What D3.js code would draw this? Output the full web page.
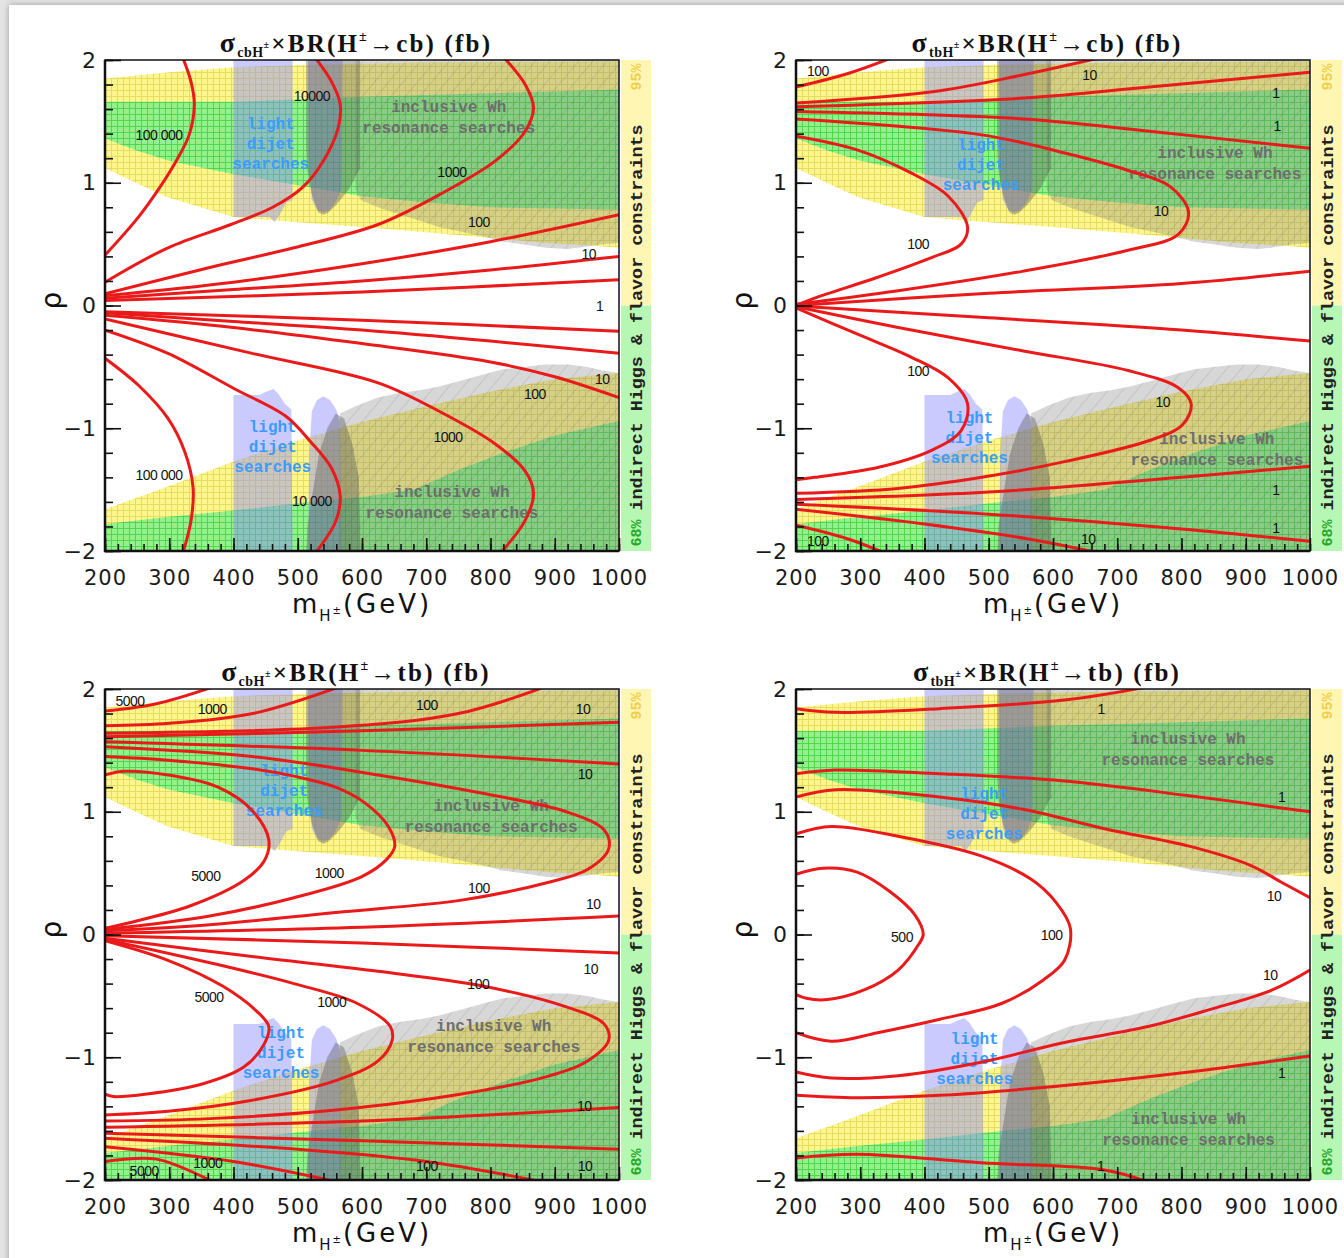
<!DOCTYPE html>
<html>
<head>
<meta charset="utf-8">
<script src="https://cdn.jsdelivr.net/npm/d3@7"></script>
<style>
  body { margin: 0; background: #e6e6e6; }
  svg { display: block; }
</style>
</head>
<body>
<svg id="fig" width="1344" height="1258"></svg>
<script>
// ---- axes
const massMajor = d3.range(200, 1001, 100);
const massMinor = d3.range(200, 1001, 20);
const rhoMajor = [-2, -1, 0, 1, 2];
const rhoMinor = d3.range(-2, 2.001, 0.2);

// ---- constraint regions, [m_H (GeV), rho]
const yellowUpper = [[200,1.85],[300,1.9],[400,1.94],[500,1.96],[700,1.98],[1000,1.99],
  [1000,0.47],[950,0.49],[886,0.51],[800,0.55],[690,0.6],[600,0.64],[494,0.68],[400,0.72],[298,0.88],[252,0.99],[200,1.12]];
const greenUpper = [[200,1.66],[400,1.66],[600,1.7],[800,1.73],[1000,1.76],
  [1000,0.78],[900,0.79],[800,0.8],[700,0.84],[600,0.89],[500,0.98],[400,1.07],[300,1.18],[250,1.26],[200,1.36]];
const yellowLower = [[200,-1.66],[300,-1.47],[400,-1.27],[500,-1.1],[600,-0.95],[700,-0.82],[800,-0.7],[900,-0.6],[1000,-0.55],[1000,-2.05],[200,-2.05]];
const greenLower = [[200,-1.78],[300,-1.72],[400,-1.67],[500,-1.61],[600,-1.56],[680,-1.5],[750,-1.34],[820,-1.2],[900,-1.06],[1000,-0.94],[1000,-2.05],[200,-2.05]];

const whUpper = [[590,2.05],[1000,2.05],[1000,0.51],[975,0.5],[951,0.48],[920,0.46],[886,0.47],[850,0.5],[820,0.52],[790,0.56],[755,0.6],[720,0.64],[690,0.69],[660,0.74],[625,0.8],[598,0.86],[590,0.95]];
const whSpikeUpper = [[513,2.05],[597,2.05],[597,1.12],[580,0.95],[560,0.82],[548,0.76],[540,0.74],[532,0.76],[522,0.9],[515,1.1],[513,1.3]];
const whLower = [[566,-0.88],[590,-0.82],[625,-0.75],[660,-0.71],[690,-0.69],[720,-0.66],[755,-0.61],[790,-0.56],[820,-0.52],[850,-0.5],[886,-0.48],[920,-0.48],[951,-0.5],[975,-0.53],[1000,-0.55],[1000,-2.05],[566,-2.05]];
const whSpikeLower = [[513,-2.05],[515,-1.8],[523,-1.53],[533,-1.21],[546,-1.0],[559,-0.88],[572,-0.92],[585,-1.13],[595,-1.4],[598,-2.05]];

const dijetUpperA = [[400,2.05],[492,2.05],[492,0.86],[482,0.84],[472,0.74],[464,0.68],[456,0.72],[440,0.72],[400,0.72]];
const dijetUpperB = [[516,2.05],[570,2.05],[568,0.95],[560,0.85],[550,0.78],[540,0.76],[530,0.78],[522,0.86],[517,1.2]];
const dijetLowerA = [[400,-2.05],[400,-0.73],[440,-0.73],[452,-0.7],[462,-0.68],[470,-0.72],[480,-0.8],[490,-0.85],[492,-2.05]];
const dijetLowerB = [[516,-2.05],[518,-1.2],[522,-0.86],[530,-0.77],[540,-0.74],[550,-0.77],[560,-0.85],[566,-0.95],[568,-2.05]];

// ---- contours: sigma(cbH) x BR(H -> cb)
const cbcbContours = [
  [[200,0.41],[252,0.72],[285,0.96],[311,1.18],[331,1.39],[339,1.64],[334,1.82],[321,2.02]],
  [[200,0.19],[298,0.47],[396,0.66],[461,0.8],[507,0.96],[540,1.18],[563,1.45],[566,1.64],[553,1.82],[527,2.02]],
  [[200,0.095],[363,0.31],[494,0.47],[625,0.66],[723,0.91],[808,1.18],[854,1.42],[867,1.61],[854,1.8],[821,2.02]],
  [[200,0.08],[400,0.19],[600,0.34],[800,0.52],[1000,0.74]],
  [[200,0.06],[400,0.13],[600,0.2],[800,0.29],[1000,0.4]],
  [[200,0.04],[600,0.11],[1000,0.21]],
  [[200,-0.05],[600,-0.12],[1000,-0.21]],
  [[200,-0.06],[400,-0.13],[600,-0.2],[800,-0.29],[1000,-0.39]],
  [[200,-0.08],[400,-0.18],[600,-0.31],[800,-0.46],[900,-0.58],[1000,-0.75]],
  [[200,-0.11],[429,-0.39],[625,-0.63],[723,-0.87],[808,-1.13],[854,-1.35],[867,-1.53],[854,-1.75],[815,-2.02]],
  [[200,-0.2],[298,-0.39],[402,-0.68],[481,-0.9],[520,-1.11],[553,-1.33],[566,-1.55],[559,-1.76],[527,-2.02]],
  [[200,-0.43],[252,-0.65],[298,-0.92],[324,-1.19],[337,-1.48],[334,-1.75],[321,-2.02]]
];
const cbcbLabels = [["100 000",284,1.39],["10000",522,1.71],["1000",740,1.09],["100",782,0.68],["10",953,0.42],["1",970,0.0],
  ["10",974,-0.6],["100",869,-0.72],["1000",734,-1.07],["100 000",284,-1.38],["10 000",522,-1.59]];
const cbcbNotes = [[458,1.31],[461,-1.16],[735,1.52],[740,-1.61]];

// ---- contours: sigma(tbH) x BR(H -> cb)
const tbcbContours = [
  [[200,1.78],[281,1.89],[350,2.02]],
  [[200,1.65],[424,1.75],[554,1.88],[675,2.02]],
  [[200,1.62],[554,1.69],[750,1.78],[1000,1.9]],
  [[200,1.58],[554,1.52],[750,1.42],[1000,1.28]],
  [[200,1.52],[489,1.39],[620,1.24],[717,1.1],[782,0.97],[811,0.76],[795,0.58],[717,0.45],[554,0.28],[359,0.12],[200,0.01]],
  [[200,1.38],[294,1.27],[379,1.08],[437,0.89],[467,0.64],[457,0.5],[411,0.39],[327,0.23],[229,0.06],[200,0.0]],
  [[200,0.0],[500,0.1],[800,0.18],[1000,0.28]],
  [[200,-0.005],[500,-0.1],[800,-0.2],[1000,-0.29]],
  [[200,-0.02],[294,-0.23],[379,-0.42],[437,-0.59],[467,-0.8],[457,-1.02],[411,-1.18],[327,-1.32],[229,-1.4],[200,-1.42]],
  [[200,-0.01],[359,-0.18],[554,-0.37],[717,-0.53],[795,-0.67],[815,-0.8],[802,-0.97],[750,-1.1],[620,-1.27],[489,-1.4],[359,-1.49],[200,-1.53]],
  [[200,-1.58],[500,-1.52],[800,-1.4],[1000,-1.31]],
  [[200,-1.62],[500,-1.7],[800,-1.82],[1000,-1.92]],
  [[200,-1.66],[400,-1.78],[560,-1.9],[675,-2.02]],
  [[200,-1.79],[280,-1.9],[340,-2.02]]
];
const tbcbLabels = [["100",234,1.91],["10",657,1.88],["1",947,1.73],["1",949,1.46],["100",390,0.5],["10",768,0.77],
  ["100",390,-0.53],["10",771,-0.79],["1",947,-1.5],["1",947,-1.81],["10",655,-1.9],["100",234,-1.92]];
const tbcbNotes = [[488,1.14],[470,-1.09],[852,1.15],[855,-1.18]];

// ---- contours: sigma(cbH) x BR(H -> tb)
const cbtbContours = [
  [[200,1.82],[280,1.88],[370,2.02]],
  [[200,1.7],[300,1.72],[430,1.8],[566,2.02]],
  [[200,1.64],[560,1.69],[750,1.8],[886,2.02]],
  [[200,1.61],[600,1.66],[1000,1.73]],
  [[200,1.57],[600,1.5],[1000,1.39]],
  [[200,1.53],[429,1.45],[625,1.3],[788,1.15],[918,1.0],[977,0.85],[984,0.7],[951,0.53],[886,0.42],[755,0.28],[559,0.18],[363,0.08],[200,0.03]],
  [[200,1.45],[298,1.42],[429,1.35],[494,1.29],[559,1.2],[605,1.07],[641,0.88],[651,0.72],[638,0.61],[599,0.47],[494,0.3],[363,0.15],[200,0.04]],
  [[200,1.3],[231,1.33],[298,1.3],[376,1.2],[429,1.01],[455,0.77],[448,0.6],[416,0.44],[331,0.23],[233,0.09],[200,0.05]],
  [[200,0.01],[600,0.06],[1000,0.15]],
  [[200,-0.01],[600,-0.07],[1000,-0.15]],
  [[200,-0.05],[298,-0.21],[383,-0.42],[435,-0.62],[455,-0.75],[448,-0.89],[416,-1.08],[350,-1.22],[265,-1.3],[213,-1.32],[200,-1.3]],
  [[200,-0.04],[363,-0.23],[494,-0.4],[592,-0.56],[644,-0.75],[647,-0.86],[625,-1.03],[559,-1.19],[429,-1.35],[298,-1.44],[200,-1.47]],
  [[200,-0.03],[429,-0.18],[625,-0.3],[788,-0.42],[918,-0.59],[977,-0.73],[984,-0.86],[951,-1.03],[886,-1.16],[755,-1.3],[559,-1.43],[363,-1.5],[200,-1.52]],
  [[200,-1.57],[600,-1.52],[1000,-1.41]],
  [[200,-1.62],[600,-1.68],[1000,-1.75]],
  [[200,-1.66],[500,-1.75],[700,-1.85],[886,-2.02]],
  [[200,-1.73],[400,-1.85],[566,-2.02]],
  [[200,-1.85],[280,-1.83],[370,-2.02]]
];
const cbtbLabels = [["5000",239,1.9],["1000",367,1.84],["100",701,1.87],["10",944,1.84],["10",947,1.31],["5000",357,0.48],
  ["1000",549,0.5],["100",782,0.38],["10",960,0.25],["10",956,-0.28],["100",781,-0.4],["5000",362,-0.51],["1000",553,-0.55],
  ["10",946,-1.4],["1000",360,-1.86],["5000",261,-1.93],["100",701,-1.89],["10",947,-1.89]];
const cbtbNotes = [[479,1.16],[474,-0.97],[801,0.95],[805,-0.84]];

// ---- contours: sigma(tbH) x BR(H -> tb)
const tbtbContours = [
  [[200,1.84],[262,1.81],[423,1.84],[618,1.91],[750,2.02]],
  [[200,1.31],[262,1.34],[423,1.31],[618,1.25],[812,1.13],[1000,1.0]],
  [[200,1.12],[262,1.18],[423,1.12],[553,1.02],[682,0.86],[812,0.72],[909,0.56],[954,0.43],[1000,0.3]],
  [[200,0.82],[255,0.88],[359,0.8],[488,0.64],[566,0.45],[605,0.26],[627,0.05],[618,-0.21],[585,-0.37],[521,-0.56],[424,-0.69],[327,-0.8],[255,-0.87],[200,-0.8]],
  [[200,0.49],[242,0.54],[294,0.51],[346,0.35],[385,0.16],[398,0.0],[391,-0.08],[359,-0.29],[307,-0.45],[249,-0.53],[216,-0.52],[200,-0.49]],
  [[200,-1.12],[255,-1.17],[359,-1.15],[488,-1.04],[618,-0.88],[748,-0.75],[845,-0.61],[942,-0.45],[1000,-0.29]],
  [[200,-1.31],[294,-1.33],[424,-1.31],[618,-1.23],[812,-1.12],[1000,-0.99]],
  [[200,-1.82],[294,-1.79],[488,-1.86],[682,-1.92],[750,-2.02]]
];
const tbtbLabels = [["1",675,1.84],["1",956,1.12],["10",944,0.31],["500",365,-0.02],["100",598,0.0],["10",938,-0.33],
  ["1",956,-1.13],["1",674,-1.89]];
const tbtbNotes = [[493,0.97],[478,-1.02],[810,1.5],[811,-1.6]];

const dijetText = ["light", "dijet", "searches"];
const whText = ["inclusive Wh", "resonance searches"];

// ---- layout
const W = 514, H = 491;
const panels = [
  {key: "cbcb", left: 105, top: 60, prod: "cbH", decay: "cb", lines: cbcbContours, tags: cbcbLabels, notes: cbcbNotes},
  {key: "tbcb", left: 796, top: 60, prod: "tbH", decay: "cb", lines: tbcbContours, tags: tbcbLabels, notes: tbcbNotes},
  {key: "cbtb", left: 105, top: 689, prod: "cbH", decay: "tb", lines: cbtbContours, tags: cbtbLabels, notes: cbtbNotes},
  {key: "tbtb", left: 796, top: 689, prod: "tbH", decay: "tb", lines: tbtbContours, tags: tbtbLabels, notes: tbtbNotes}
];

const svg = d3.select("#fig");
const defs = svg.append("defs");

// page with soft edge
const sh = defs.append("filter").attr("id", "shadow").attr("x", "-5%").attr("y", "-5%").attr("width", "110%").attr("height", "110%");
sh.append("feDropShadow").attr("dx", 0).attr("dy", 0).attr("stdDeviation", 3).attr("flood-color", "#9a9a9a");
svg.append("rect").attr("width", 1344).attr("height", 1258).attr("fill", "#e4e4e4");
svg.append("rect").attr("x", 9).attr("y", 5).attr("width", 1345).attr("height", 1260)
  .attr("fill", "#fff").attr("filter", "url(#shadow)");

// mesh textures
function mesh(id, base, line) {
  const p = defs.append("pattern").attr("id", id).attr("width", 6).attr("height", 6)
    .attr("patternUnits", "userSpaceOnUse");
  p.append("rect").attr("width", 6).attr("height", 6).attr("fill", base);
  p.append("path").attr("d", "M0,0.5H6M0.5,0V6").attr("stroke", line).attr("stroke-width", 1);
}
mesh("meshY", "#fdf68e", "#e6dc5e");
mesh("meshG", "#94ef8e", "#4fd84a");
const hatch = defs.append("pattern").attr("id", "hatch").attr("width", 11).attr("height", 11)
  .attr("patternUnits", "userSpaceOnUse").attr("patternTransform", "rotate(40)");
hatch.append("path").attr("d", "M0,0V11").attr("stroke", "#4a4a4a").attr("stroke-width", 0.8).attr("opacity", 0.35);

const x = d3.scaleLinear().domain([200, 1000]).range([0, W]);
const y = d3.scaleLinear().domain([-2, 2]).range([H, 0]);
const area = d3.line().x(d => x(d[0])).y(d => y(d[1])).curve(d3.curveLinearClosed);
const contour = d3.line().x(d => x(d[0])).y(d => y(d[1])).curve(d3.curveCatmullRom.alpha(0.5));

function drawPanel(p) {
  const g = svg.append("g").attr("transform", `translate(${p.left},${p.top})`);

  defs.append("clipPath").attr("id", "clip-" + p.key)
    .append("rect").attr("width", W).attr("height", H);
  const plot = g.append("g").attr("clip-path", `url(#clip-${p.key})`);

  // indirect constraints
  [yellowUpper, yellowLower].forEach(r => plot.append("path").attr("d", area(r)).attr("fill", "url(#meshY)"));
  [greenUpper, greenLower].forEach(r => plot.append("path").attr("d", area(r)).attr("fill", "url(#meshG)"));

  // light dijet
  [dijetUpperA, dijetUpperB, dijetLowerA, dijetLowerB].forEach(r =>
    plot.append("path").attr("d", area(r)).attr("fill", "#8a8aff").attr("opacity", 0.45));

  // inclusive Wh
  [whUpper, whLower].forEach(r => {
    plot.append("path").attr("d", area(r)).attr("fill", "#7a7a7a").attr("opacity", 0.3);
    plot.append("path").attr("d", area(r)).attr("fill", "url(#hatch)");
  });
  [whSpikeUpper, whSpikeLower].forEach(r => {
    plot.append("path").attr("d", area(r)).attr("fill", "#5a5a5a").attr("opacity", 0.4);
  });

  // search labels (under the contours)
  const mono = "Liberation Mono, Courier New, monospace";
  p.notes.slice(0, 2).forEach(n => {
    dijetText.forEach((t, i) => plot.append("text")
      .attr("x", x(n[0])).attr("y", y(n[1]) + (i - 1) * 20)
      .attr("text-anchor", "middle").attr("dominant-baseline", "central")
      .attr("font-family", mono).attr("font-weight", "bold").attr("font-size", 16)
      .attr("fill", "#3b9cff").text(t));
  });
  p.notes.slice(2).forEach(n => {
    whText.forEach((t, i) => plot.append("text")
      .attr("x", x(n[0])).attr("y", y(n[1]) + (i - 0.5) * 21)
      .attr("text-anchor", "middle").attr("dominant-baseline", "central")
      .attr("font-family", mono).attr("font-weight", "bold").attr("font-size", 16)
      .attr("fill", "#6e6e6e").text(t));
  });

  // contours
  plot.selectAll("path.cont").data(p.lines).join("path").attr("class", "cont")
    .attr("d", contour).attr("fill", "none").attr("stroke", "#ea1a1a")
    .attr("stroke-width", 3).attr("stroke-linejoin", "round");

  plot.selectAll("text.lev").data(p.tags).join("text").attr("class", "lev")
    .attr("x", d => x(d[1])).attr("y", d => y(d[2]))
    .attr("text-anchor", "middle").attr("dominant-baseline", "central")
    .attr("font-family", "Liberation Sans, Arial, sans-serif").attr("font-size", 14)
    .attr("letter-spacing", -0.5).attr("fill", "#111").text(d => d[0]);

  // side bar
  const bar = g.append("g").attr("transform", `translate(${W + 2},0)`);
  bar.append("rect").attr("width", 30).attr("height", y(0)).attr("fill", "#fff6b4");
  bar.append("rect").attr("y", y(0)).attr("width", 30).attr("height", H - y(0)).attr("fill", "#b6f7b4");
  bar.append("text").attr("transform", `translate(16,${H / 2 + 12}) rotate(-90)`)
    .attr("text-anchor", "middle").attr("dominant-baseline", "central")
    .attr("font-family", mono).attr("font-weight", "bold").attr("font-size", 17)
    .attr("textLength", 386).attr("lengthAdjust", "spacingAndGlyphs")
    .attr("fill", "#222").text("indirect Higgs & flavor constraints");
  bar.append("text").attr("transform", "translate(16,17) rotate(-90)")
    .attr("text-anchor", "middle").attr("dominant-baseline", "central")
    .attr("font-family", mono).attr("font-weight", "bold").attr("font-size", 15)
    .attr("fill", "#f2cf4a").text("95%");
  bar.append("text").attr("transform", `translate(16,${H - 18}) rotate(-90)`)
    .attr("text-anchor", "middle").attr("dominant-baseline", "central")
    .attr("font-family", mono).attr("font-weight", "bold").attr("font-size", 15)
    .attr("fill", "#28a828").text("68%");

  // frame and axes
  g.append("rect").attr("width", W).attr("height", H).attr("fill", "none")
    .attr("stroke", "#111").attr("stroke-width", 1.5);
  g.append("path").attr("d", `M0,0V${H}H${W}`).attr("fill", "none").attr("stroke", "#111").attr("stroke-width", 2.5);

  const tickFont = "DejaVu Sans, Verdana, sans-serif";
  const xMinor = g.append("g").attr("transform", `translate(0,${H})`)
    .call(d3.axisBottom(x).tickValues(massMinor).tickSize(-7).tickFormat(() => ""));
  const xMajor = g.append("g").attr("transform", `translate(0,${H})`)
    .call(d3.axisBottom(x).tickValues(massMajor).tickSize(-13).tickPadding(19).tickFormat(d3.format("d")));
  const yMinor = g.append("g")
    .call(d3.axisLeft(y).tickValues(rhoMinor).tickSize(-8).tickFormat(() => ""));
  const yMajor = g.append("g")
    .call(d3.axisLeft(y).tickValues(rhoMajor).tickSize(-16).tickPadding(9).tickFormat(d3.format("d")));
  [xMinor, xMajor, yMinor, yMajor].forEach(a => {
    a.select(".domain").remove();
    a.selectAll(".tick line").attr("stroke", "#111").attr("stroke-width", 1.6);
    a.selectAll("text").attr("fill", "#1a1a1a");
  });
  xMajor.attr("font-family", tickFont).attr("font-size", 21).attr("letter-spacing", 1);
  yMajor.attr("font-family", tickFont).attr("font-size", 22);

  // titles
  const serif = "Liberation Serif, Times New Roman, serif";
  const title = g.append("text").attr("x", 251).attr("y", -8).attr("text-anchor", "middle")
    .attr("font-family", serif).attr("font-weight", "bold").attr("font-size", 25).attr("fill", "#111")
    .attr("letter-spacing", 2.2);
  title.append("tspan").attr("font-size", 28).text("σ");
  title.append("tspan").attr("font-size", 14).attr("dy", 5).attr("letter-spacing", 0.5).text(p.prod);
  title.append("tspan").attr("font-size", 10).attr("dy", -9).text("±");
  title.append("tspan").attr("font-size", 25).attr("dy", 4).text("×BR(H");
  title.append("tspan").attr("font-size", 14).attr("dy", -11).text("±");
  title.append("tspan").attr("font-size", 25).attr("dy", 11).text("→" + p.decay + ") (fb)");

  const xl = g.append("text").attr("x", 257).attr("y", H + 62).attr("text-anchor", "middle")
    .attr("font-family", tickFont).attr("font-size", 26).attr("fill", "#111").attr("letter-spacing", 2);
  xl.append("tspan").text("m");
  xl.append("tspan").attr("font-size", 15).attr("dy", 8).text("H");
  xl.append("tspan").attr("font-size", 10).attr("dy", -7).text("±");
  xl.append("tspan").attr("font-size", 26).attr("dy", -1).attr("letter-spacing", 3).text("(GeV)");

  g.append("text").attr("transform", `translate(-54,${H / 2 - 5}) rotate(-90)`)
    .attr("text-anchor", "middle").attr("dominant-baseline", "central")
    .attr("font-family", tickFont).attr("font-size", 28).attr("fill", "#111").text("ρ");
}

panels.forEach(drawPanel);
</script>
</body>
</html>
